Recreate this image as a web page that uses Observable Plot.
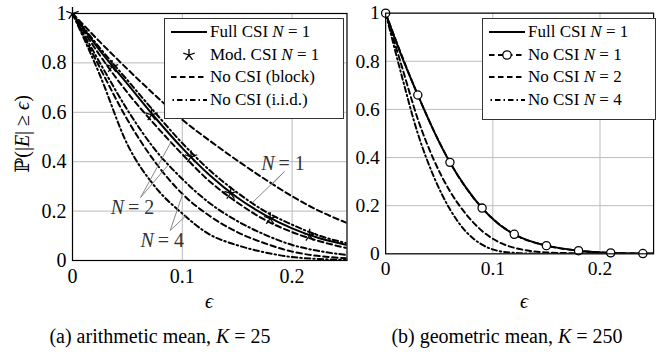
<!DOCTYPE html>
<html><head><meta charset="utf-8">
<script src="https://cdn.jsdelivr.net/npm/d3@7"></script>
<script src="https://cdn.jsdelivr.net/npm/@observablehq/plot@0.6"></script>
<style>
html,body{margin:0;padding:0;background:#fff;width:657px;height:356px;overflow:hidden;position:relative;font-family:"Liberation Serif","Tinos","Times New Roman",Times,"DejaVu Serif",serif;color:#000;}
.abs{position:absolute;}
.legend{position:absolute;background:#fff;border:1px solid #333;font-size:17px;line-height:22.5px;padding:2px 4px 2px 6px;box-sizing:border-box;}
.legend .row{display:flex;align-items:center;white-space:nowrap;height:22.5px;}
.legend svg{margin-right:3px;flex:none;}
i{font-style:italic;}
.lab{position:absolute;font-size:20px;white-space:nowrap;}
svg text{font-family:"Liberation Serif","Tinos","Times New Roman",Times,"DejaVu Serif",serif;}
</style></head><body>
<div id="pa" class="abs" style="left:0;top:0"></div>
<div id="pb" class="abs" style="left:315px;top:0"></div>
<div id="ylab" class="lab" style="left:22px;top:134px;transform:translate(-50%,-50%) rotate(-90deg);font-size:20px;">ℙ(|<i>E</i>| ≥ <i>ϵ</i>)</div>
<div class="lab" style="left:209px;top:290px;transform:translateX(-50%)"><i>ϵ</i></div>
<div class="lab" style="left:524px;top:290px;transform:translateX(-50%)"><i>ϵ</i></div>
<div id="capA" class="lab" style="left:160px;top:325px;transform:translateX(-50%)"></div>
<div id="capB" class="lab" style="left:507px;top:325px;transform:translateX(-50%)"></div>
<div id="legA" class="legend" style="left:164px;top:18px;width:180px;height:101px;"></div>
<div id="legB" class="legend" style="left:482px;top:18px;width:174px;height:102px;"></div>
<script>
// ---------- data: panel (a) arithmetic mean, K = 25 ----------
const epsA      = [0, 0.025, 0.05, 0.075, 0.1, 0.125, 0.15, 0.175, 0.2, 0.225, 0.25];
const fullCsiA  = [1, 0.85, 0.715, 0.58, 0.455, 0.345, 0.255, 0.185, 0.13, 0.09, 0.063];
const modCsiEps = [0, 0.036, 0.072, 0.108, 0.144, 0.18, 0.216];
const modCsiA   = [1, 0.785, 0.59, 0.42, 0.272, 0.17, 0.102];
const blockN1A  = [1, 0.885, 0.775, 0.67, 0.57, 0.485, 0.405, 0.33, 0.26, 0.2, 0.152];
const blockN2A  = [1, 0.83, 0.68, 0.55, 0.43, 0.32, 0.235, 0.165, 0.115, 0.078, 0.05];
const blockN4A  = [1, 0.78, 0.57, 0.4, 0.27, 0.18, 0.115, 0.07, 0.036, 0.018, 0.009];
const iidN1A    = [1, 0.86, 0.73, 0.6, 0.475, 0.365, 0.275, 0.2, 0.145, 0.1, 0.07];
const iidN2A    = [1, 0.8, 0.61, 0.45, 0.33, 0.232, 0.16, 0.105, 0.063, 0.038, 0.022];
const iidN4A    = [1, 0.75, 0.47, 0.3, 0.19, 0.105, 0.062, 0.033, 0.014, 0.006, 0.002];
// ---------- data: panel (b) geometric mean, K = 250 ----------
const epsB      = [0, 0.015, 0.03, 0.045, 0.06, 0.075, 0.09, 0.105, 0.12, 0.135, 0.15, 0.18, 0.21, 0.25];
const fullCsiB  = [1, 0.82, 0.66, 0.51, 0.38, 0.275, 0.19, 0.125, 0.081, 0.053, 0.034, 0.013, 0.004, 0.001];
const noCsiEps  = [0, 0.03, 0.06, 0.09, 0.12, 0.15, 0.18, 0.21, 0.24];
const noCsiN1B  = [1, 0.66, 0.38, 0.19, 0.081, 0.034, 0.013, 0.004, 0.001];
const noCsiN2B  = [1, 0.78, 0.56, 0.39, 0.26, 0.165, 0.095, 0.05, 0.025, 0.012, 0.006, 0.002, 0, 0];
const noCsiN4B  = [1, 0.74, 0.5, 0.32, 0.185, 0.092, 0.038, 0.012, 0.004, 0.001, 0, 0, 0, 0];
// ---------- ticks / labels ----------
const xTicks = [0, 0.1, 0.2];
const xTickLabels = ["0", "0.1", "0.2"];
const yTicks = [0, 0.2, 0.4, 0.6, 0.8, 1];
const yTickLabels = ["0", "0.2", "0.4", "0.6", "0.8", "1"];
const legendA = ["Full CSI <i>N</i> = 1", "Mod. CSI <i>N</i> = 1", "No CSI (block)", "No CSI (i.i.d.)"];
const legendB = ["Full CSI <i>N</i> = 1", "No CSI <i>N</i> = 1", "No CSI <i>N</i> = 2", "No CSI <i>N</i> = 4"];
const captionA = "(a) arithmetic mean, <i>K</i> = 25";
const captionB = "(b) geometric mean, <i>K</i> = 250";
// annotations in panel (a): label position and arrow tips (data space)
const annLabels = ["1", "2", "4"];
const annLabelX = [0.194, 0.057, 0.084];
const annLabelY = [0.393, 0.215, 0.081];
const annFromX = [0.193, 0.062, 0.089];
const annFromY = [0.36, 0.255, 0.122];
const annTipX  = [[0.164, 0.181], [0.0895, 0.0868], [0.1005, 0.103]];
const annTipY  = [[0.235, 0.305], [0.478, 0.385], [0.271, 0.18]];

const DASH = "5.5,3.5";
const DASHDOT = "5.5,3,1.5,3";
const SW = 2;
const FONT = "Liberation Serif, Tinos, Times New Roman, Times, DejaVu Serif, serif";

const star5 = {draw(ctx, size) {
  const r = Math.sqrt(size / Math.PI);
  for (let i = 0; i < 5; i++) {
    const a = -Math.PI / 2 + i * 2 * Math.PI / 5;
    ctx.moveTo(0, 0); ctx.lineTo(r * Math.cos(a), r * Math.sin(a));
  }
}};

const tf = (ticks, labels) => d => labels[ticks.indexOf(d)] ?? "";
function rows(xs, ys) { return xs.map((x, i) => ({x, y: ys[i]})); }

function frame() {
  return [
    Plot.gridX(xTicks, {stroke: "#bbb", strokeOpacity: 1, strokeWidth: 1}),
    Plot.gridY(yTicks, {stroke: "#bbb", strokeOpacity: 1, strokeWidth: 1}),
    Plot.axisX({ticks: xTicks, tickFormat: tf(xTicks, xTickLabels), tickSize: 0, tickPadding: 8, label: null, fontSize: 20}),
    Plot.axisY({ticks: yTicks, tickFormat: tf(yTicks, yTickLabels), tickSize: 0, tickPadding: 6, label: null, fontSize: 20}),
  ];
}
const lineOpt = (dash) => ({x: "x", y: "y", stroke: "black", strokeWidth: SW, strokeDasharray: dash, curve: "monotone-x", clip: true});

const plotA = Plot.plot({
  width: 350, height: 290, marginLeft: 72, marginRight: 3.5, marginTop: 13, marginBottom: 30,
  style: {fontFamily: FONT, fontSize: "20px", background: "transparent", color: "black"},
  x: {domain: [0, 0.25]}, y: {domain: [0, 1]},
  marks: [
    ...frame(),
    Plot.line(rows(epsA, blockN1A), lineOpt(DASH)),
    Plot.line(rows(epsA, blockN2A), lineOpt(DASH)),
    Plot.line(rows(epsA, blockN4A), lineOpt(DASH)),
    Plot.line(rows(epsA, iidN1A), lineOpt(DASHDOT)),
    Plot.line(rows(epsA, iidN2A), lineOpt(DASHDOT)),
    Plot.line(rows(epsA, iidN4A), lineOpt(DASHDOT)),
    Plot.line(rows(epsA, fullCsiA), lineOpt(null)),
    Plot.dot(rows(modCsiEps, modCsiA), {x: "x", y: "y", symbol: star5, r: 6.5, stroke: "black", strokeWidth: 1.3, fill: "none"}),
    ...annLabels.flatMap((n, i) => [
      Plot.link(annTipX[i].map((tx, j) => ({x1: annFromX[i], y1: annFromY[i], x2: tx, y2: annTipY[i][j]})),
        {x1: "x1", y1: "y1", x2: "x2", y2: "y2", stroke: "#888", strokeWidth: 1}),
      Plot.text([{x: annLabelX[i], y: annLabelY[i]}], {x: "x", y: "y", text: () => "N", fontStyle: "italic", textAnchor: "end", dx: -11, fontSize: 20, fill: "#333"}),
      Plot.text([{x: annLabelX[i], y: annLabelY[i]}], {x: "x", y: "y", text: () => "= " + n, textAnchor: "start", dx: -7, fontSize: 20, fill: "#333"}),
    ]),
    Plot.frame({stroke: "black", strokeWidth: 1.2}),
  ]
});
document.getElementById("pa").append(plotA);

const plotB = Plot.plot({
  width: 351, height: 290, marginLeft: 72, marginRight: 4, marginTop: 13, marginBottom: 30,
  style: {fontFamily: FONT, fontSize: "20px", background: "transparent", color: "black"},
  x: {domain: [0, 0.25]}, y: {domain: [0, 1]},
  marks: [
    ...frame(),
    Plot.line(rows(epsB, noCsiN4B), lineOpt(DASHDOT)),
    Plot.line(rows(epsB, noCsiN2B), lineOpt(DASH)),
    Plot.line(rows(noCsiEps, noCsiN1B), lineOpt(DASH)),
    Plot.line(rows(epsB, fullCsiB), lineOpt(null)),
    Plot.dot(rows(noCsiEps, noCsiN1B), {x: "x", y: "y", r: 4.2, stroke: "black", strokeWidth: 1.3, fill: "white"}),
    Plot.frame({stroke: "black", strokeWidth: 1.2}),
  ]
});
document.getElementById("pb").append(plotB);

// legends
function sample(kind) {
  const w = 36, h = 12, y = 6;
  let s = `<svg width="${w}" height="${h}">`;
  const l = (d) => `<line x1="0" x2="${w}" y1="${y}" y2="${y}" stroke="black" stroke-width="${SW}" ${d ? `stroke-dasharray="${d}"` : ""}/>`;
  if (kind === "solid") s += l(null);
  if (kind === "dash") s += l(DASH);
  if (kind === "dashdot") s += `<line x1="0" x2="${w}" y1="${y}" y2="${y}" stroke="black" stroke-width="${SW}" stroke-dasharray="${DASHDOT}" stroke-dashoffset="7"/>`;
  if (kind === "star") {
    for (let i = 0; i < 5; i++) { const a = -Math.PI/2 + i*2*Math.PI/5; s += `<line x1="${w/2}" y1="${y}" x2="${w/2 + 6*Math.cos(a)}" y2="${y + 6*Math.sin(a)}" stroke="black" stroke-width="1.3"/>`; }
  }
  if (kind === "circle") { s += l(DASH) + `<circle cx="${w/2}" cy="${y}" r="4.2" fill="white" stroke="black" stroke-width="1.3"/>`; }
  return s + "</svg>";
}
const kindsA = ["solid", "star", "dash", "dashdot"];
const kindsB = ["solid", "circle", "dash", "dashdot"];
document.getElementById("legA").innerHTML = legendA.map((t, i) => `<div class="row">${sample(kindsA[i])}<span>${t}</span></div>`).join("");
document.getElementById("legB").innerHTML = legendB.map((t, i) => `<div class="row">${sample(kindsB[i])}<span>${t}</span></div>`).join("");
document.getElementById("capA").innerHTML = captionA;
document.getElementById("capB").innerHTML = captionB;
</script>
</body></html>
